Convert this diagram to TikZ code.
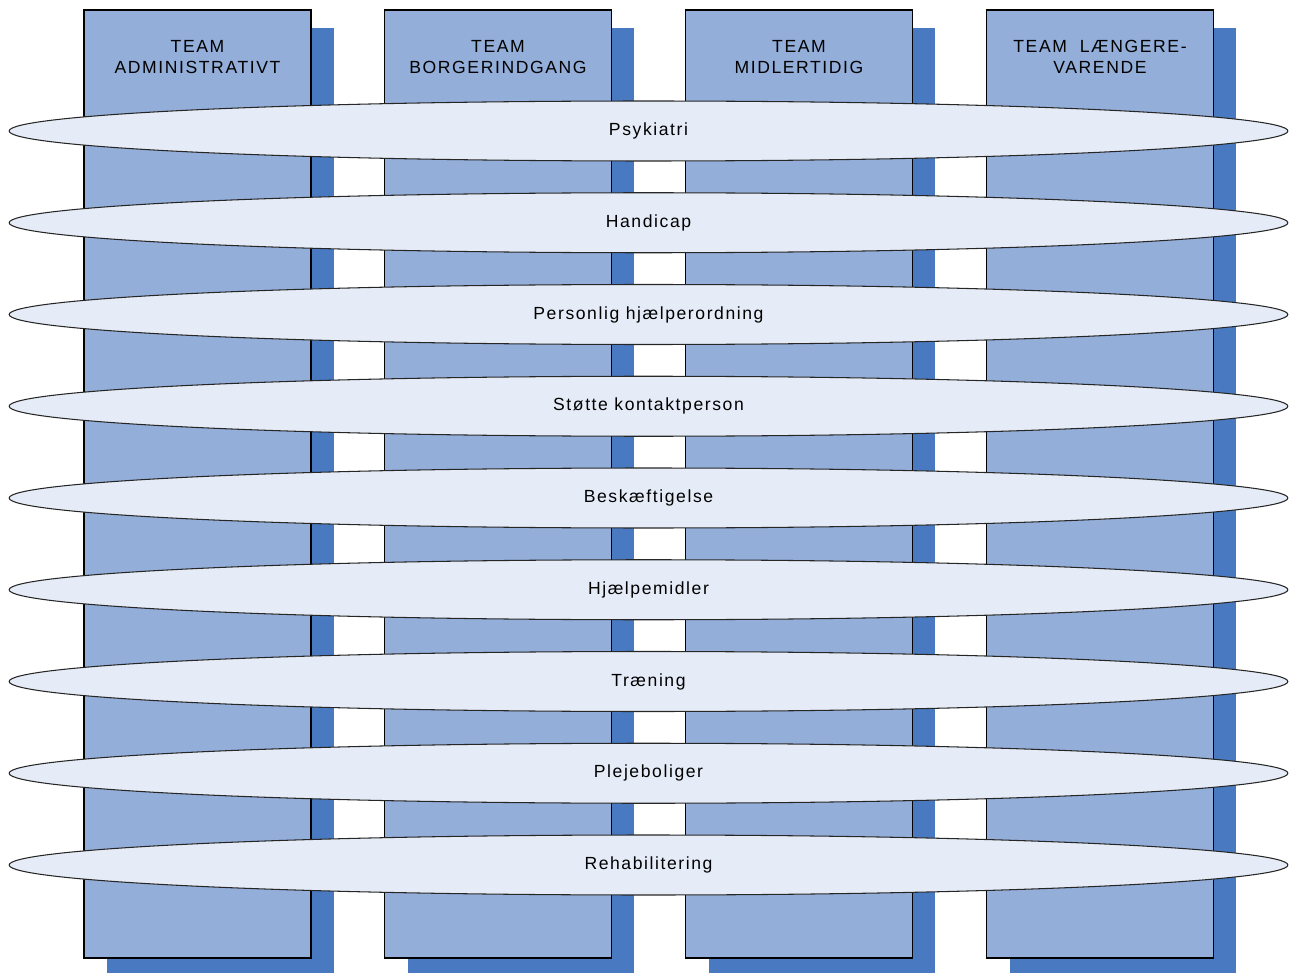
\documentclass[tikz,border=0pt]{standalone}
\usepackage{fontspec}
\setmainfont{Liberation Sans}[LetterSpace=9]
\usetikzlibrary{shapes.geometric, shadows}

\definecolor{boxblue}{RGB}{147,174,217}
\definecolor{shadowblue}{RGB}{73,122,193}
\definecolor{areafill}{RGB}{230,236,247}

\tikzset{
    teambox/.style={draw=black, line width=0.8pt, fill=boxblue, minimum width=4.54cm,
        minimum height=18.96cm, inner sep=0pt,
        drop shadow={shadow xshift=0.46cm, shadow yshift=-0.36cm, fill=shadowblue, opacity=1}},
    teamlbl/.style={align=center, font=\fontsize{10pt}{12pt}\selectfont, inner sep=0pt},
    area/.style={ellipse, draw=black!85, line width=0.6pt, fill=areafill, minimum width=25.58cm,
        minimum height=1.2cm, inner sep=0pt, font=\fontsize{10pt}{12pt}\selectfont}
}

\begin{document}
\begin{tikzpicture}[x=0.02cm, y=-0.02cm]
    \useasboundingbox (0, 0) rectangle (1292, 973);
    % team columns
    \node[teambox] (adm) at (197.5, 484) {};
    \node[teambox] (borg) at (498, 484) {};
    \node[teambox] (midl) at (799, 484) {};
    \node[teambox] (laeng) at (1100, 484) {};
    \node[teamlbl] (admlbl) at (197.5, 57) {TEAM\\ADMINISTRATIVT};
    \node[teamlbl] (borglbl) at (498, 57) {TEAM\\BORGERINDGANG};
    \node[teamlbl] (midllbl) at (799, 57) {TEAM\\MIDLERTIDIG};
    \node[teamlbl] (laenglbl) at (1100, 57) {TEAM\ \ LÆNGERE-\\VARENDE};
    % cross-cutting areas
    \foreach \lbl [count=\i] in {Psykiatri, Handicap, Personlig hjælperordning, Støtte kontaktperson,
        Beskæftigelse, Hjælpemidler, Træning, Plejeboliger, Rehabilitering} {
        \node[area] (area\i) at (648.5, {131+91.75*(\i-1)}) {\lbl};
    }
\end{tikzpicture}
\end{document}
